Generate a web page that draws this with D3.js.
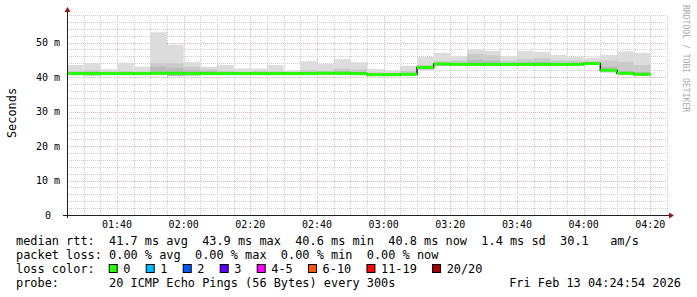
<!DOCTYPE html>
<html>
<head>
<meta charset="utf-8">
<script src="https://cdn.jsdelivr.net/npm/d3@7"></script>
<style>
  body { margin: 0; background: #fff; }
  svg text { font-family: "DejaVu Sans Mono", monospace; white-space: pre; }
</style>
</head>
<body>
<svg id="chart" width="697" height="297"></svg>
<script>
// 5 minute steps, start of each step
const steps = ["01:25","01:30","01:35","01:40","01:45","01:50","01:55","02:00","02:05","02:10",
  "02:15","02:20","02:25","02:30","02:35","02:40","02:45","02:50","02:55","03:00",
  "03:05","03:10","03:15","03:20","03:25","03:30","03:35","03:40","03:45","03:50",
  "03:55","04:00","04:05","04:10","04:15"]

// ms values per step
const median   = [41.0,41.0,41.0,41.0,41.0,41.1,41.1,41.0,41.0,41.0,41.0,41.0,41.0,41.0,41.0,41.1,41.1,41.0,40.7,40.7,
                  40.8,42.8,43.8,43.7,43.7,43.7,43.7,43.7,43.7,43.7,43.7,43.9,42.0,41.1,40.8]
const smokeMax = [43.5,44.0,42.3,44.2,43.0,53.0,49.4,44.4,43.0,43.5,42.5,42.5,43.5,42.0,44.6,43.8,45.2,44.3,42.3,41.8,
                  43.3,45.9,47.0,46.1,48.0,47.6,46.1,47.6,47.3,46.4,45.9,45.6,46.4,47.5,47.0]
const smokeMid = [41.8,42.0,41.6,41.7,41.6,44.0,44.0,43.0,42.3,41.8,41.6,41.8,41.7,41.5,42.0,41.8,42.5,42.2,41.3,41.2,
                  41.8,43.5,44.6,44.8,46.7,46.3,44.6,45.2,45.5,44.8,44.7,44.6,44.8,44.4,43.5]
const smokeIn  = [41.4,41.5,41.3,41.4,41.3,43.0,42.6,42.0,41.7,41.4,41.3,41.4,41.3,41.2,41.5,41.5,41.7,41.5,41.0,40.9,
                  41.2,43.1,44.1,44.1,45.0,44.8,44.0,44.3,44.4,44.1,44.1,44.3,43.0,41.7,41.5]
const smokeMin = [40.6,40.5,40.7,40.6,40.6,40.7,40.3,40.5,40.6,40.6,40.6,40.6,40.6,40.7,40.6,40.6,40.6,40.6,40.3,40.3,
                  40.4,42.2,43.3,43.2,43.3,43.3,43.3,43.3,43.3,43.3,43.3,43.5,41.4,40.6,40.3]

const yTicks = [0, 10, 20, 30, 40, 50]
const xTickLabels = ["01:40","02:00","02:20","02:40","03:00","03:20","03:40","04:00","04:20"]

const lossNames  = ["0","1","2","3","4-5","6-10","11-19","20/20"]
const lossColors = ["#26ff00","#00b8ff","#0059ff","#5e00ff","#ff00ff","#ff5500","#ff0000","#a00000"]

const legendLines = [
  "median rtt:  41.7 ms avg  43.9 ms max  40.6 ms min  40.8 ms now  1.4 ms sd  30.1   am/s",
  "packet loss: 0.00 % avg  0.00 % max  0.00 % min  0.00 % now",
  "loss color:",
  "probe:       20 ICMP Echo Pings (56 Bytes) every 300s"
]
const stamp = "Fri Feb 13 04:24:54 2026"

const svg = d3.select("#chart")
const margin = {top: 15, left: 67, right: 30, bottom: 82}
const width = 697, height = 297
const parse = d3.timeParse("%H:%M")

const x = d3.scaleTime()
  .domain([parse("01:25"), parse("04:25")])
  .range([margin.left, width - margin.right])
const y = d3.scaleLinear()
  .domain([0, 58])
  .range([height - margin.bottom, margin.top])

const x0 = margin.left, x1 = width - margin.right
const y0 = height - margin.bottom, y1 = margin.top

// grid
const grid = svg.append("g")
const minorT = d3.timeMinute.every(5).range(parse("01:25"), parse("04:26"))
grid.selectAll(".vmin").data(minorT).enter().append("line")
  .attr("x1", d => Math.round(x(d)) + 0.5).attr("x2", d => Math.round(x(d)) + 0.5)
  .attr("y1", y0).attr("y2", y1)
  .attr("stroke", d => d.getMinutes() % 20 == 0 ? "#e6b6b6" : "#cfcfcf")
  .attr("stroke-dasharray", "1,1")
grid.selectAll(".hmin").data(d3.range(2, 59, 2)).enter().append("line")
  .attr("x1", x0).attr("x2", x1)
  .attr("y1", d => Math.round(y(d)) + 0.5).attr("y2", d => Math.round(y(d)) + 0.5)
  .attr("stroke", d => d % 10 == 0 ? "#e6b6b6" : "#cfcfcf")
  .attr("stroke-dasharray", "1,1")

// smoke
const smoke = svg.append("g")
const stepX = (i) => x(parse(steps[i]))
const stepW = (i) => x(d3.timeMinute.offset(parse(steps[i]), 5)) - x(parse(steps[i]))
const layers = [[smokeMin, smokeMax, "#dcdcdc"], [smokeMin, smokeMid, "#cacaca"], [smokeMin, smokeIn, "#bababa"]]
layers.forEach(([lo, hi, col]) => {
  smoke.selectAll(null).data(steps).enter().append("rect")
    .attr("x", (d, i) => stepX(i))
    .attr("width", (d, i) => stepW(i))
    .attr("y", (d, i) => y(hi[i]))
    .attr("height", (d, i) => y(lo[i]) - y(hi[i]))
    .attr("fill", col)
})

// median: dark step line, green per step
const stepLine = d3.line()
  .x(d => x(d.t)).y(d => y(d.v))
  .curve(d3.curveStepAfter)
const medPts = steps.map((s, i) => ({t: parse(s), v: median[i]}))
medPts.push({t: d3.timeMinute.offset(parse(steps[steps.length - 1]), 5), v: median[median.length - 1]})
svg.append("path")
  .datum(medPts)
  .attr("d", stepLine)
  .attr("fill", "none")
  .attr("stroke", "#202020")
  .attr("stroke-width", 1.5)
svg.selectAll(".med").data(steps).enter().append("line")
  .attr("x1", (d, i) => stepX(i)).attr("x2", (d, i) => stepX(i) + stepW(i))
  .attr("y1", (d, i) => y(median[i])).attr("y2", (d, i) => y(median[i]))
  .attr("stroke", lossColors[0])
  .attr("stroke-width", 3)

// axes
const axisCol = "#202020"
svg.append("line").attr("x1", x0 + 0.5).attr("x2", x0 + 0.5).attr("y1", y0 + 3).attr("y2", y1 - 4)
  .attr("stroke", axisCol)
svg.append("line").attr("x1", x0 - 4).attr("x2", x1 + 3).attr("y1", y0 + 0.5).attr("y2", y0 + 0.5)
  .attr("stroke", axisCol)
svg.append("path").attr("d", `M${x0 - 2.5},${y1 - 3} L${x0 + 3.5},${y1 - 3} L${x0 + 0.5},${y1 - 8} Z`).attr("fill", "#8b1a1a")
svg.append("path").attr("d", `M${x1 + 2},${y0 - 2.5} L${x1 + 2},${y0 + 3.5} L${x1 + 7},${y0 + 0.5} Z`).attr("fill", "#8b1a1a")

svg.selectAll(".yl").data(yTicks).enter().append("text")
  .attr("x", d => d == 0 ? 51 : 60)
  .attr("y", d => y(d) + 3.5)
  .attr("text-anchor", "end")
  .attr("font-size", "10px")
  .text(d => d == 0 ? "0" : d + " m")
svg.selectAll(".xl").data(xTickLabels).enter().append("text")
  .attr("x", d => x(parse(d)))
  .attr("y", 228)
  .attr("text-anchor", "middle")
  .attr("font-size", "10px")
  .text(d => d)

svg.append("text")
  .attr("transform", `translate(15.5, 113) rotate(-90)`)
  .attr("text-anchor", "middle")
  .attr("font-size", "11.9px")
  .text("Seconds")
svg.append("text")
  .attr("transform", `translate(683, 5) rotate(90)`)
  .attr("font-size", "8.1px")
  .attr("fill", "#aaaaaa")
  .text("RRDTOOL / TOBI OETIKER")

// legend
const lg = svg.append("g").attr("font-size", "11.9px")
legendLines.forEach((t, i) => {
  lg.append("text").attr("x", 16).attr("y", 245 + i * 14).text(t)
})
const cw = 7.15
let bx = 108.7
lossNames.forEach((n, i) => {
  lg.append("rect").attr("x", bx + 0.5).attr("y", 264.5).attr("width", 8).attr("height", 8)
    .attr("fill", lossColors[i]).attr("stroke", "#000")
  lg.append("text").attr("x", bx + 14.6).attr("y", 273).text(n)
  bx += 29.85 + n.length * cw
})
lg.append("text").attr("x", 681).attr("y", 287).attr("text-anchor", "end").text(stamp)
</script>
</body>
</html>
